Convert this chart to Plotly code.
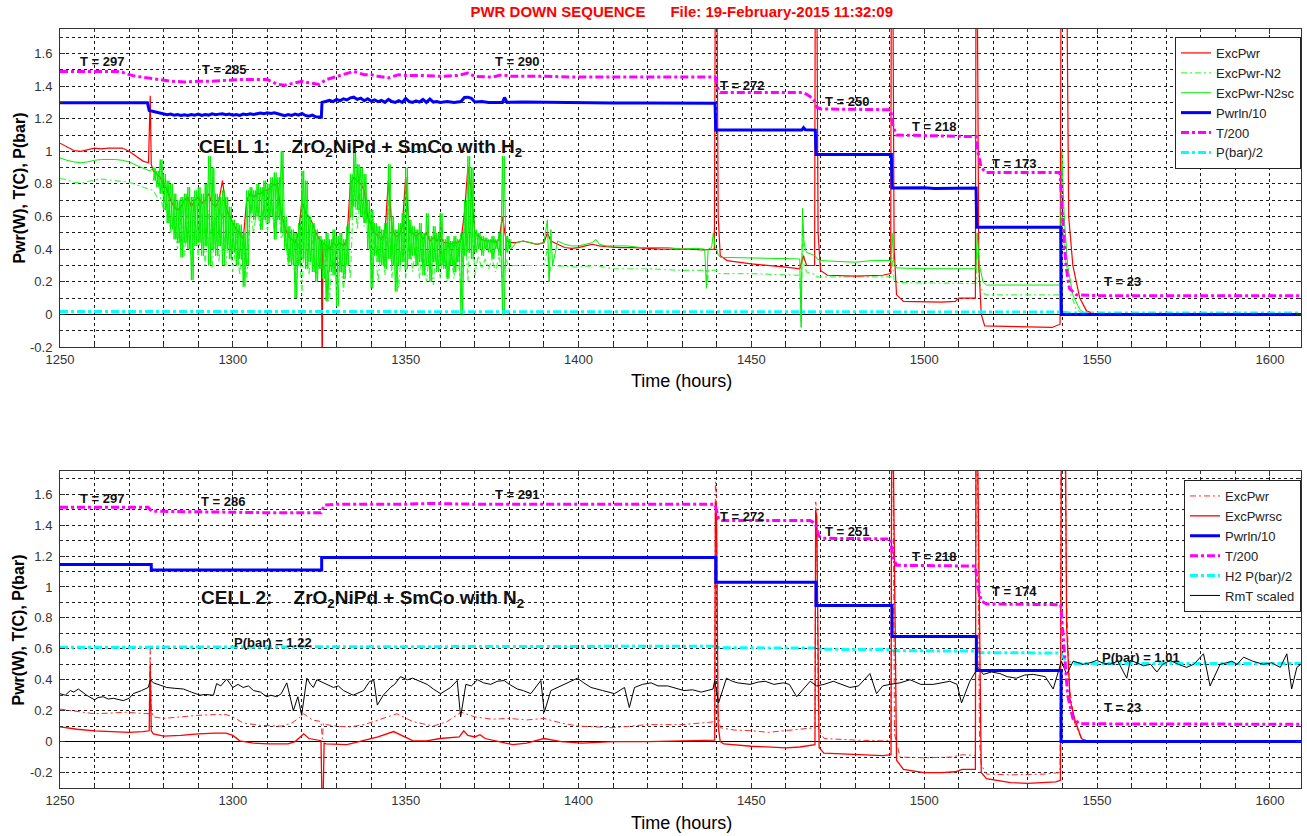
import plotly.graph_objects as go

FONT = "Liberation Sans, Arial, Helvetica, sans-serif"

# ====================== CELL 1 : ZrO2NiPd + SmCo with H2 ======================
# ExcPwr (red) - smooth start, hourly noisy band, dip at 1326 and power-step tail
c1_exc_head = [(1250, 1.05), (1252, 1.03), (1254, 1.005), (1256, 1.0), (1258, 1.01),
               (1260, 1.02), (1262, 1.015), (1264, 1.02), (1266, 1.02), (1268, 1.02),
               (1270, 1.0), (1272, 0.97), (1274, 0.94), (1275.6, 0.93), (1276.1, 1.34),
               (1276.4, 0.92), (1276.8, 0.89)]
c1_band_hours = list(range(1277, 1381))
c1_exc_band = [0.88, 0.86, 0.84, 0.80, 0.76, 0.70, 0.66, 0.64, 0.66, 0.70,
               0.72, 0.66, 0.70, 0.72, 0.68, 0.70, 0.74, 0.68, 0.66, 0.70,
               0.82, 0.66, 0.60, 0.56, 0.52, 0.50, 0.46, 0.70, 0.74, 0.72,
               0.74, 0.74, 0.76, 0.76, 0.78, 0.80, 0.78, 0.62, 0.54, 0.48,
               0.46, 0.44, 0.50, 0.70, 0.62, 0.60, 0.56, 0.50, 0.46, 0.44,
               0.42, 0.40, 0.44, 0.42, 0.44, 0.42, 0.46, 0.80, 0.84, 0.82,
               0.80, 0.76, 0.60, 0.54, 0.50, 0.48, 0.46, 0.50, 0.82, 0.54,
               0.48, 0.48, 0.54, 0.84, 0.52, 0.50, 0.48, 0.50, 0.46, 0.50,
               0.45, 0.47, 0.45, 0.48, 0.44, 0.44, 0.43, 0.44, 0.44, 0.46,
               0.62, 0.90, 0.76, 0.50, 0.48, 0.46, 0.45, 0.45, 0.45, 0.44,
               0.46, 0.60, 0.46, 0.44]
c1_exc_dip = [(1325.6, 0.45), (1325.8, -0.25), (1325.9, -0.25)]
c1_exc_tail = [(1382, 0.44), (1384, 0.45), (1386, 0.44), (1388, 0.43), (1390, 0.44),
               (1391, 0.50), (1392, 0.45), (1394, 0.43), (1396, 0.41), (1398, 0.405),
               (1400, 0.41), (1402, 0.42), (1404, 0.43), (1406, 0.42), (1408, 0.415),
               (1412, 0.41), (1416, 0.41), (1420, 0.405), (1424, 0.40), (1428, 0.40),
               (1432, 0.40), (1436, 0.395), (1439.3, 0.40), (1439.6, 2.2), (1440.0, 2.2),
               (1440.4, 0.6), (1441, 0.36), (1443, 0.33), (1450, 0.31), (1460, 0.29),
               (1464, 0.28), (1465, 0.36), (1466, 0.30), (1468.3, 0.30), (1468.5, 2.2),
               (1468.9, 2.2), (1469.3, 0.5), (1470, 0.27), (1472, 0.24), (1480, 0.235),
               (1488, 0.24), (1490.3, 0.25), (1490.5, 2.2), (1490.9, 2.2), (1491.3, 0.4),
               (1492, 0.12), (1494, 0.08), (1505, 0.075), (1509, 0.08), (1510, 0.10),
               (1514.8, 0.10), (1515.0, 2.2), (1515.3, 2.2), (1515.8, 0.3), (1516.5, 0.0),
               (1517.5, -0.07), (1525, -0.075), (1537, -0.08), (1539.3, -0.06), (1539.6, 2.2),
               (1541.2, 2.2), (1541.8, 0.6), (1543, 0.3), (1545, 0.1), (1547, 0.02),
               (1550, 0.0), (1609, 0.0)]

# ExcPwr-N2sc (solid green): start, hourly high/low band, tail
c1_sc_head = [(1250, 0.96), (1252, 0.945), (1254, 0.935), (1256, 0.93), (1258, 0.935),
              (1260, 0.945), (1262, 0.95), (1264, 0.95), (1266, 0.95), (1268, 0.945),
              (1270, 0.935), (1272, 0.915), (1274, 0.895), (1276, 0.88)]
c1_sc_hi = [0.90, 0.88, 0.95, 0.86, 0.82, 0.80, 0.74, 0.70, 0.72, 0.74,
            0.78, 0.72, 0.76, 0.78, 0.74, 0.80, 0.97, 0.90, 0.74, 0.72,
            0.76, 0.72, 0.66, 0.58, 0.56, 0.55, 0.50, 0.76, 0.78, 0.76,
            0.80, 0.78, 0.82, 0.80, 0.84, 0.87, 0.84, 1.00, 0.60, 0.54,
            0.52, 0.50, 0.56, 0.88, 0.82, 0.60, 0.56, 0.52, 0.48, 0.46,
            0.50, 0.46, 0.52, 0.48, 0.50, 0.46, 0.54, 0.86, 1.00, 0.92,
            0.90, 0.86, 0.70, 0.64, 0.56, 0.54, 0.52, 0.56, 0.92, 0.60,
            0.52, 0.56, 0.62, 0.90, 0.58, 0.54, 0.52, 0.56, 0.50, 0.62,
            0.48, 0.54, 0.50, 0.62, 0.46, 0.48, 0.45, 0.48, 0.46, 0.50,
            0.70, 0.97, 0.90, 0.52, 0.50, 0.48, 0.47, 0.46, 0.48, 0.46,
            0.50, 0.97, 0.48, 0.46]
c1_sc_lo = [0.82, 0.78, 0.74, 0.64, 0.56, 0.52, 0.46, 0.44, 0.35, 0.44,
            0.40, 0.21, 0.42, 0.44, 0.36, 0.42, 0.30, 0.40, 0.36, 0.42,
            0.30, 0.40, 0.34, 0.38, 0.30, 0.34, 0.17, 0.30, 0.62, 0.58,
            0.60, 0.52, 0.58, 0.56, 0.60, 0.46, 0.58, 0.50, 0.40, 0.32,
            0.30, 0.10, 0.30, 0.34, 0.28, 0.32, 0.26, 0.20, 0.28, 0.22,
            0.08, 0.26, 0.24, 0.05, 0.26, 0.22, 0.30, 0.60, 0.66, 0.64,
            0.60, 0.56, 0.40, 0.16, 0.36, 0.32, 0.30, 0.28, 0.34, 0.30,
            0.14, 0.30, 0.32, 0.28, 0.34, 0.36, 0.30, 0.32, 0.24, 0.30,
            0.20, 0.32, 0.26, 0.30, 0.28, 0.22, 0.30, 0.26, 0.32, 0.00,
            0.36, 0.38, 0.34, 0.38, 0.40, 0.36, 0.40, 0.38, 0.34, 0.40,
            0.36, 0.00, 0.38, 0.40]
c1_sc_tail = [(1382, 0.44), (1384, 0.45), (1386, 0.44), (1388, 0.43), (1390, 0.44),
              (1391, 0.58), (1391.5, 0.20), (1392, 0.52), (1392.5, 0.30), (1394, 0.45),
              (1396, 0.43), (1398, 0.42), (1400, 0.42), (1402, 0.43), (1404, 0.44),
              (1405, 0.46), (1406, 0.43), (1408, 0.42), (1410, 0.42), (1414, 0.42),
              (1418, 0.41), (1422, 0.41), (1426, 0.41), (1430, 0.40), (1434, 0.405),
              (1436.5, 0.40), (1437, 0.16), (1437.5, 0.40), (1438.5, 0.41), (1439, 0.50),
              (1439.5, 0.41), (1440, 0.40), (1440.3, 0.37), (1441, 0.35), (1450, 0.345),
              (1460, 0.34), (1464, 0.34), (1464.4, -0.08), (1464.8, 0.65), (1465.2, 0.45),
              (1465.6, 0.40), (1466, 0.38), (1467, 0.37), (1468.5, 0.36), (1469, 0.34),
              (1470, 0.33), (1480, 0.32), (1485, 0.33), (1490.4, 0.33), (1490.7, 0.50),
              (1491.2, 0.32), (1492, 0.285), (1500, 0.28), (1515, 0.28), (1515.3, 0.50),
              (1516, 0.30), (1517, 0.20), (1518, 0.18), (1530, 0.18), (1539.3, 0.18),
              (1539.8, 1.00), (1540.5, 0.60), (1541.5, 0.30), (1543, 0.12), (1545, 0.03),
              (1547, 0.0), (1609, 0.0)]

# ExcPwr-N2 (dash-dot light green): start, 2-hourly high/low band, tail
c1_n2_head = [(1250, 0.835), (1252, 0.825), (1254, 0.81), (1256, 0.805), (1258, 0.815),
              (1260, 0.825), (1262, 0.83), (1264, 0.825), (1266, 0.82), (1268, 0.815),
              (1270, 0.81), (1272, 0.795), (1274, 0.78), (1276, 0.765)]
c1_n2_hours = list(range(1277, 1381, 2))
c1_n2_hi = [0.76, 0.72, 0.68, 0.62, 0.60, 0.62, 0.60, 0.62, 0.64, 0.60,
            0.62, 0.54, 0.48, 0.44, 0.64, 0.66, 0.68, 0.70, 0.72, 0.52,
            0.44, 0.46, 0.66, 0.46, 0.40, 0.40, 0.42, 0.40, 0.44, 0.80,
            0.78, 0.62, 0.48, 0.44, 0.70, 0.44, 0.50, 0.48, 0.44, 0.42,
            0.40, 0.42, 0.40, 0.38, 0.40, 0.60, 0.70, 0.36, 0.34, 0.34,
            0.36, 0.34]
c1_n2_lo = [0.72, 0.64, 0.50, 0.40, 0.36, 0.30, 0.34, 0.30, 0.28, 0.32,
            0.30, 0.26, 0.24, 0.20, 0.50, 0.52, 0.50, 0.52, 0.46, 0.30,
            0.24, 0.12, 0.24, 0.22, 0.18, 0.10, 0.20, 0.14, 0.22, 0.52,
            0.54, 0.34, 0.20, 0.24, 0.22, 0.16, 0.22, 0.26, 0.22, 0.20,
            0.18, 0.22, 0.20, 0.22, 0.14, 0.20, 0.24, 0.28, 0.28, 0.26,
            0.22, 0.28]
c1_n2_tail = [(1381, 0.30), (1390, 0.30), (1391, 0.40), (1391.5, 0.22), (1392, 0.30),
              (1400, 0.29), (1405, 0.30), (1410, 0.28), (1420, 0.28), (1430, 0.27),
              (1437, 0.27), (1437.3, 0.18), (1437.6, 0.27), (1440, 0.27), (1440.4, 0.25),
              (1450, 0.25), (1460, 0.245), (1464, 0.24), (1464.4, -0.05), (1464.8, 0.55),
              (1465.3, 0.30), (1466, 0.26), (1468.5, 0.245), (1469, 0.23), (1480, 0.23),
              (1490.4, 0.23), (1490.7, 0.35), (1491.3, 0.21), (1492, 0.195), (1515, 0.19),
              (1515.3, 0.40), (1516, 0.20), (1517, 0.13), (1518, 0.12), (1539.3, 0.12),
              (1539.9, 0.60), (1540.8, 0.35), (1542, 0.15), (1544, 0.03), (1546, 0.0),
              (1609, 0.0)]

# Pwrln/10 (blue)
c1_pwr = [(1250, 1.298), (1275.3, 1.298), (1275.8, 1.25), (1277, 1.245), (1278, 1.24),
          (1279, 1.235), (1280, 1.23), (1281, 1.225), (1282, 1.228), (1283, 1.222),
          (1284, 1.226), (1285, 1.22), (1286, 1.224), (1287, 1.22), (1288, 1.226),
          (1289, 1.222), (1290, 1.228), (1291, 1.22), (1292, 1.225), (1293, 1.222),
          (1294, 1.23), (1295, 1.224), (1296, 1.228), (1297, 1.23), (1298, 1.224),
          (1299, 1.228), (1300, 1.222), (1301, 1.226), (1302, 1.22), (1303, 1.228),
          (1304, 1.224), (1305, 1.23), (1306, 1.226), (1307, 1.232), (1308, 1.235),
          (1309, 1.23), (1310, 1.236), (1311, 1.232), (1312, 1.236), (1313, 1.23),
          (1314, 1.226), (1315, 1.218), (1316, 1.225), (1317, 1.22), (1318, 1.228),
          (1319, 1.222), (1320, 1.232), (1321, 1.22), (1322, 1.215), (1323, 1.222),
          (1324, 1.212), (1325, 1.21), (1325.6, 1.21), (1325.8, 1.30), (1327, 1.305),
          (1328, 1.312), (1329, 1.305), (1330, 1.318), (1331, 1.31), (1332, 1.322),
          (1333, 1.315), (1334, 1.328), (1335, 1.332), (1336, 1.318), (1337, 1.326),
          (1338, 1.31), (1339, 1.322), (1340, 1.308), (1341, 1.315), (1342, 1.305),
          (1343, 1.312), (1344, 1.30), (1345, 1.318), (1346, 1.305), (1347, 1.30),
          (1348, 1.31), (1349, 1.30), (1350, 1.325), (1351, 1.305), (1352, 1.30),
          (1353, 1.31), (1354, 1.302), (1355, 1.318), (1356, 1.30), (1357, 1.32),
          (1358, 1.302), (1359, 1.305), (1360, 1.30), (1362, 1.305), (1364, 1.30),
          (1366, 1.305), (1367, 1.33), (1368, 1.332), (1369, 1.325), (1370, 1.302),
          (1372, 1.305), (1374, 1.30), (1376, 1.302), (1378, 1.30), (1378.6, 1.33),
          (1379.3, 1.30), (1384, 1.302), (1390, 1.30), (1394, 1.30), (1400, 1.298),
          (1410, 1.296), (1420, 1.296), (1430, 1.295), (1439.5, 1.295), (1439.7, 1.13),
          (1464.6, 1.13), (1465.1, 1.145), (1465.6, 1.132), (1468.5, 1.13), (1468.7, 0.98),
          (1490.5, 0.98), (1490.7, 0.775), (1500, 0.776), (1503, 0.772), (1515, 0.775),
          (1515.2, 0.535), (1539.5, 0.535), (1539.7, 0.0), (1609, 0.0)]

# T/200 (magenta)
c1_temp = [(1250, 1.49), (1266, 1.49), (1268, 1.485), (1270, 1.47), (1272, 1.46),
           (1275, 1.45), (1278, 1.44), (1282, 1.43), (1286, 1.425), (1290, 1.43),
           (1294, 1.43), (1298, 1.435), (1302, 1.44), (1306, 1.44), (1310, 1.44),
           (1313, 1.41), (1315, 1.405), (1318, 1.42), (1320, 1.43), (1322, 1.42),
           (1325, 1.41), (1327, 1.44), (1330, 1.46), (1333, 1.48), (1335, 1.49),
           (1338, 1.47), (1340, 1.47), (1342, 1.46), (1345, 1.45), (1348, 1.47),
           (1350, 1.465), (1355, 1.465), (1360, 1.46), (1365, 1.465), (1368, 1.48),
           (1370, 1.46), (1375, 1.455), (1378, 1.47), (1380, 1.46), (1390, 1.46),
           (1400, 1.455), (1420, 1.455), (1439.5, 1.455), (1440.5, 1.37), (1441, 1.36),
           (1460, 1.36), (1465, 1.36), (1466, 1.35), (1468, 1.32), (1469, 1.27),
           (1470, 1.26), (1490.3, 1.255), (1491, 1.15), (1492, 1.10), (1515, 1.09),
           (1515.5, 1.0), (1516.5, 0.90), (1518, 0.87), (1539.3, 0.87), (1540, 0.6),
           (1541, 0.3), (1542, 0.16), (1544, 0.12), (1550, 0.115), (1609, 0.115)]

# P(bar)/2 (cyan)
c1_press = [(1250, 0.018), (1280, 0.016), (1300, 0.015), (1310, 0.018), (1350, 0.017),
            (1400, 0.017), (1500, 0.016), (1539.5, 0.015), (1542, 0.008), (1609, 0.008)]

c1_labels = [("T = 297", 1255.2, 1.553), ("T = 285", 1290.5, 1.503),
             ("T = 290", 1375.3, 1.551), ("T = 272", 1440.3, 1.405),
             ("T = 250", 1470.7, 1.305), ("T = 218", 1495.9, 1.154),
             ("T = 173", 1519.0, 0.925), ("T = 23", 1551.4, 0.201)]

# ====================== CELL 2 : ZrO2NiPd + SmCo with N2 ======================
c2_exc = [(1250, 0.21), (1255, 0.195), (1260, 0.18), (1265, 0.185), (1269, 0.19),
          (1272, 0.185), (1275.8, 0.18), (1276.1, 0.60), (1276.4, 0.20), (1277, 0.16),
          (1280, 0.15), (1285, 0.16), (1290, 0.17), (1295, 0.175), (1298, 0.175),
          (1300, 0.16), (1303, 0.12), (1308, 0.105), (1314, 0.10), (1317, 0.12),
          (1319, 0.15), (1320.5, 0.18), (1323, 0.14), (1325.5, 0.13), (1325.9, 0.02),
          (1326.2, 0.12), (1327, 0.11), (1330, 0.10), (1334, 0.095), (1338, 0.11),
          (1342, 0.14), (1347.5, 0.18), (1352, 0.13), (1358, 0.10), (1362, 0.13),
          (1366, 0.19), (1370, 0.16), (1375, 0.145), (1380, 0.15), (1385, 0.14),
          (1390, 0.15), (1395, 0.12), (1400, 0.10), (1410, 0.09), (1420, 0.11),
          (1430, 0.11), (1438, 0.125), (1439.4, 0.13), (1439.6, 1.68), (1439.9, 1.6),
          (1440.3, 0.2), (1441, 0.09), (1445, 0.075), (1450, 0.07), (1455, 0.06),
          (1460, 0.07), (1464, 0.08), (1468.4, 0.09), (1468.6, 1.55), (1468.9, 1.5),
          (1469.4, 0.08), (1471, 0.02), (1480, 0.01), (1488, 0.005), (1490.4, 0.01),
          (1490.6, 2.2), (1490.9, 2.2), (1491.4, 0.05), (1493, -0.10), (1500, -0.105),
          (1508, -0.10), (1511, -0.085), (1514.8, -0.09), (1515.0, 2.2), (1515.3, 2.2),
          (1516, 0.0), (1516.5, -0.15), (1518, -0.21), (1525, -0.215), (1535, -0.21),
          (1539.3, -0.2), (1539.6, 2.2), (1540.6, 2.2), (1541.2, 0.9), (1542, 0.35),
          (1543.5, 0.12), (1545.5, 0.02), (1548, 0.0), (1609, 0.0)]

c2_excsc = [(1250, 0.095), (1255, 0.08), (1260, 0.07), (1265, 0.065), (1270, 0.06),
            (1274, 0.065), (1275.8, 0.07), (1276.1, 0.50), (1276.4, 0.07), (1277, 0.05),
            (1280, 0.035), (1285, 0.04), (1290, 0.05), (1295, 0.055), (1298, 0.055),
            (1300, 0.04), (1302, 0.005), (1306, -0.01), (1310, -0.015), (1316, -0.015),
            (1318, 0.0), (1319.5, 0.03), (1320.5, 0.05), (1322, 0.02), (1325.5, 0.006),
            (1325.8, -0.4), (1326.1, -0.4), (1326.4, -0.01), (1327, -0.015), (1333, -0.02),
            (1338, 0.01), (1342, 0.03), (1346.5, 0.065), (1350, 0.03), (1352, 0.006),
            (1356, 0.005), (1360, 0.02), (1365.5, 0.03), (1366.8, 0.07), (1368, 0.04),
            (1370, 0.03), (1371.5, 0.045), (1373, 0.02), (1377, 0.0), (1381, -0.02),
            (1385, -0.01), (1390, 0.02), (1395, 0.0), (1401, -0.01), (1410, 0.0),
            (1420, 0.0), (1430, 0.005), (1439.4, 0.01), (1439.6, 1.55), (1439.9, 1.5),
            (1440.4, 0.10), (1441, 0.0), (1442, -0.015), (1450, -0.03), (1460, -0.04),
            (1464, -0.035), (1468.4, -0.02), (1468.6, 1.5), (1468.9, 1.45), (1469.6, -0.04),
            (1471, -0.075), (1480, -0.085), (1488, -0.09), (1490.4, -0.085), (1490.6, 2.2),
            (1490.9, 2.2), (1492, -0.12), (1494, -0.18), (1500, -0.20), (1505, -0.20),
            (1509, -0.195), (1511, -0.18), (1514.8, -0.18), (1515.0, 2.2), (1515.3, 2.2),
            (1516.5, -0.2), (1518, -0.24), (1525, -0.265), (1530, -0.27), (1538, -0.26),
            (1539.4, -0.25), (1539.7, 2.2), (1540.8, 2.2), (1541.2, 0.74), (1542.2, 0.27),
            (1543.6, 0.14), (1545.5, 0.02), (1547, 0.0), (1609, 0.0)]

# Pwrln/10 as a stepped setpoint
c2_pwr_t = [1250, 1276.4, 1325.7, 1439.7, 1468.7, 1490.7, 1515.1, 1539.6, 1609]
c2_pwr_v = [1.145, 1.11, 1.19, 1.03, 0.88, 0.68, 0.46, 0.0, 0.0]

c2_temp = [(1250, 1.515), (1275.5, 1.515), (1276.5, 1.49), (1290, 1.485), (1300, 1.483),
           (1310, 1.48), (1320, 1.48), (1325.5, 1.48), (1326.5, 1.53), (1330, 1.535),
           (1350, 1.535), (1357, 1.54), (1370, 1.535), (1400, 1.535), (1420, 1.535),
           (1439.5, 1.535), (1440.5, 1.44), (1441.5, 1.43), (1460, 1.43), (1467, 1.43),
           (1468.5, 1.41), (1469.5, 1.33), (1470.5, 1.315), (1490.3, 1.31), (1490.8, 1.2),
           (1492, 1.14), (1514.8, 1.135), (1515.5, 1.0), (1516.5, 0.91), (1518, 0.89),
           (1539.5, 0.885), (1540.5, 0.6), (1541.5, 0.3), (1543, 0.15), (1545, 0.115),
           (1609, 0.112)]

c2_press = [(1250, 0.61), (1300, 0.612), (1350, 0.615), (1400, 0.615), (1439.5, 0.617),
            (1440.5, 0.607), (1468.5, 0.605), (1469, 0.597), (1490.5, 0.595), (1491, 0.588),
            (1515, 0.585), (1515.5, 0.575), (1539.5, 0.573), (1541, 0.52), (1543, 0.505),
            (1609, 0.505)]

c2_rmt = [(1250, 0.31), (1251.5, 0.30), (1253, 0.33), (1254, 0.32), (1255.3, 0.34),
          (1257.7, 0.30), (1260, 0.27), (1261, 0.285), (1262.5, 0.29), (1264, 0.275),
          (1265.4, 0.28), (1268.3, 0.265), (1270, 0.28), (1271.2, 0.31), (1273.6, 0.33),
          (1275.5, 0.35), (1276.2, 0.40), (1277, 0.38), (1279, 0.365), (1280.9, 0.35),
          (1283, 0.345), (1285.7, 0.34), (1288, 0.32), (1290.5, 0.30), (1292, 0.305),
          (1294.4, 0.30), (1295.3, 0.375), (1296.5, 0.36), (1298.2, 0.405), (1300, 0.35),
          (1301.5, 0.37), (1303, 0.35), (1304.5, 0.36), (1306, 0.33), (1308, 0.32),
          (1309.8, 0.29), (1311, 0.30), (1312.7, 0.29), (1314, 0.31), (1315.6, 0.38),
          (1317.5, 0.20), (1318.8, 0.29), (1319.9, 0.17), (1321.4, 0.41), (1322.5, 0.37),
          (1323.3, 0.35), (1324.3, 0.40), (1325.2, 0.39), (1327, 0.37), (1329.1, 0.35),
          (1330.5, 0.36), (1332, 0.33), (1334.8, 0.30), (1336, 0.31), (1337.8, 0.33),
          (1339.6, 0.39), (1340.8, 0.395), (1341.8, 0.236), (1343.5, 0.30), (1345.6, 0.35),
          (1346.8, 0.37), (1348.5, 0.42), (1350.5, 0.40), (1352, 0.41), (1353.4, 0.395),
          (1356.2, 0.37), (1358, 0.34), (1360.1, 0.31), (1363, 0.35), (1364.9, 0.395),
          (1365.9, 0.16), (1367.4, 0.37), (1369, 0.36), (1370.8, 0.40), (1372.5, 0.38),
          (1374.6, 0.37), (1376.5, 0.39), (1378.5, 0.395), (1380, 0.37), (1382.3, 0.34),
          (1384, 0.33), (1386.2, 0.31), (1389.1, 0.395), (1390.1, 0.19), (1392, 0.33),
          (1394, 0.35), (1395.9, 0.37), (1397.5, 0.39), (1399.7, 0.41), (1401.5, 0.38),
          (1403.6, 0.35), (1407, 0.33), (1410.4, 0.31), (1413.3, 0.35), (1414.7, 0.22),
          (1416.2, 0.35), (1418.5, 0.37), (1421, 0.38), (1423, 0.36), (1425.8, 0.36),
          (1428, 0.345), (1430.5, 0.33), (1433, 0.335), (1435.5, 0.32), (1438.9, 0.34),
          (1439.4, 0.395), (1440.5, 0.25), (1442.8, 0.41), (1444.5, 0.39), (1446, 0.38),
          (1449.6, 0.37), (1452, 0.385), (1454, 0.39), (1456.5, 0.37), (1459.3, 0.38),
          (1461, 0.37), (1463.1, 0.29), (1467, 0.39), (1468.9, 0.36), (1471, 0.37),
          (1473.7, 0.39), (1476, 0.37), (1478.5, 0.35), (1481, 0.36), (1484.3, 0.44),
          (1486.2, 0.31), (1488, 0.36), (1490.1, 0.37), (1493, 0.38), (1495.9, 0.40),
          (1499, 0.37), (1502.6, 0.37), (1505, 0.38), (1507.4, 0.39), (1509.5, 0.37),
          (1510.8, 0.25), (1513.2, 0.39), (1515.6, 0.48), (1517.1, 0.435), (1519.5, 0.45),
          (1521.9, 0.44), (1524, 0.42), (1526.7, 0.41), (1529, 0.43), (1531.5, 0.435),
          (1535, 0.42), (1537.3, 0.34), (1539.7, 0.52), (1541.2, 0.435), (1543.1, 0.52),
          (1546, 0.50), (1548, 0.51), (1549.9, 0.525), (1551.5, 0.51), (1553.7, 0.50),
          (1556, 0.52), (1558.6, 0.41), (1559.6, 0.525), (1561.5, 0.51), (1563.4, 0.49),
          (1565.5, 0.50), (1567.3, 0.45), (1569, 0.50), (1571.1, 0.525), (1573.5, 0.50),
          (1575.9, 0.48), (1578, 0.50), (1580.8, 0.568), (1582.7, 0.36), (1585.6, 0.50),
          (1587.5, 0.51), (1589, 0.52), (1590.5, 0.50), (1592.4, 0.546), (1595, 0.52),
          (1598.1, 0.50), (1600.5, 0.51), (1603, 0.48), (1604.9, 0.568), (1606.3, 0.34),
          (1607.8, 0.48), (1609, 0.50)]

c2_labels = [("T = 297", 1255.2, 1.572), ("T = 286", 1290.2, 1.55),
             ("T = 291", 1375.3, 1.60), ("T = 272", 1440.3, 1.453),
             ("T = 251", 1470.7, 1.356), ("T = 218", 1495.9, 1.198),
             ("T = 174", 1519.0, 0.973), ("T = 23", 1551.3, 0.222),
             ("P(bar) = 1.22", 1299.8, 0.643), ("P(bar) = 1.01", 1550.8, 0.546)]

# Axis ticks
x_ticks = [1250, 1300, 1350, 1400, 1450, 1500, 1550, 1600]
y_ticks = [-0.2, 0, 0.2, 0.4, 0.6, 0.8, 1, 1.2, 1.4, 1.6]
y_ticktext = ["-0.2", "0", "0.2", "0.4", "0.6", "0.8", "1", "1.2", "1.4", "1.6"]


def unzip(pairs):
    return [p[0] for p in pairs], [p[1] for p in pairs]


def zigzag(hours, first, second, half):
    xs, ys = [], []
    for t, a, b in zip(hours, first, second):
        xs += [t, t + half]
        ys += [a, b]
    return xs, ys


def join(*parts):
    xs, ys = [], []
    for px, py in parts:
        xs += list(px)
        ys += list(py)
    return xs, ys


# assemble cell-1 series
red_band = sorted(list(zip(c1_band_hours, c1_exc_band)) + c1_exc_dip)
c1_exc_x, c1_exc_y = join(unzip(c1_exc_head), unzip(red_band), unzip(c1_exc_tail))
c1_sc_x, c1_sc_y = join(unzip(c1_sc_head), zigzag(c1_band_hours, c1_sc_hi, c1_sc_lo, 0.5),
                        unzip(c1_sc_tail))
# the same hourly samples traced in opposite phase, so the noisy band reads as dense
c1_sc2_x, c1_sc2_y = zigzag(c1_band_hours, c1_sc_lo, c1_sc_hi, 0.5)
c1_n2_x, c1_n2_y = join(unzip(c1_n2_head), zigzag(c1_n2_hours, c1_n2_hi, c1_n2_lo, 1.0),
                        unzip(c1_n2_tail))

DD_THICK = "8px,3px,3px,3px"
DD_THIN = "6px,3px,2px,3px"
GREEN = "#00f000"

fig = go.Figure()


def add(x, y, name, color, width, dash, xa, ya, legend, rank, show=True):
    fig.add_trace(go.Scatter(
        x=x, y=y, mode="lines", name=name, xaxis=xa, yaxis=ya,
        line=dict(color=color, width=width, dash=dash), showlegend=show,
        legend=legend, legendrank=rank, hoverinfo="skip"))


# cell 1 traces (draw order)
add(c1_n2_x, c1_n2_y, "ExcPwr-N2", "#40ff40", 1.2, DD_THIN, "x", "y", "legend", 2)
add(c1_exc_x, c1_exc_y, "ExcPwr", "#ff0000", 1.2, "solid", "x", "y", "legend", 1)
add(c1_sc2_x, c1_sc2_y, "ExcPwr-N2sc", GREEN, 1, "solid", "x", "y", "legend", 3, False)
add(c1_sc_x, c1_sc_y, "ExcPwr-N2sc", GREEN, 1, "solid", "x", "y", "legend", 3)
px_, py_ = unzip(c1_press)
add(px_, py_, "P(bar)/2", "#00ffff", 3, DD_THICK, "x", "y", "legend", 6)
px_, py_ = unzip(c1_pwr)
add(px_, py_, "Pwrln/10", "#0000ff", 3, "solid", "x", "y", "legend", 4)
px_, py_ = unzip(c1_temp)
add(px_, py_, "T/200", "#ff00ff", 3, DD_THICK, "x", "y", "legend", 5)

# cell 2 traces
px_, py_ = unzip(c2_press)
add(px_, py_, "H2 P(bar)/2", "#00ffff", 3, DD_THICK, "x2", "y2", "legend2", 5)
px_, py_ = unzip(c2_exc)
add(px_, py_, "ExcPwr", "#ff2a2a", 1, DD_THIN, "x2", "y2", "legend2", 1)
px_, py_ = unzip(c2_excsc)
add(px_, py_, "ExcPwrsc", "#ff0000", 1.3, "solid", "x2", "y2", "legend2", 2)
px_, py_ = unzip(c2_rmt)
add(px_, py_, "RmT scaled", "#000000", 1, "solid", "x2", "y2", "legend2", 6)
fig.add_trace(go.Scatter(x=c2_pwr_t, y=c2_pwr_v, mode="lines", name="Pwrln/10",
                         xaxis="x2", yaxis="y2", line=dict(color="#0000ff", width=3, shape="hv"),
                         legend="legend2", legendrank=3, hoverinfo="skip"))
px_, py_ = unzip(c2_temp)
add(px_, py_, "T/200", "#ff00ff", 3, DD_THICK, "x2", "y2", "legend2", 4)

GRID = dict(showgrid=True, gridcolor="#1a1a1a", gridwidth=1, griddash="3px,3px")
AX_COMMON = dict(showline=True, linecolor="#333333", linewidth=1, mirror="ticks",
                 ticks="inside", ticklen=5, tickcolor="#333333",
                 tickfont=dict(family=FONT, size=13, color="#333333"), **GRID)


def xaxis(anchor):
    return dict(range=[1250, 1609], tickvals=x_ticks, ticktext=[str(v) for v in x_ticks],
                anchor=anchor, zeroline=False,
                minor=dict(dtick=10, tick0=1250, ticks="inside", ticklen=3,
                           tickcolor="#333333", **GRID), **AX_COMMON)


def yaxis(rng, dom, anchor):
    return dict(range=rng, domain=dom, anchor=anchor, tickvals=y_ticks, ticktext=y_ticktext,
                zeroline=True, zerolinecolor="#000000", zerolinewidth=1,
                ticklabelstandoff=4,
                minor=dict(dtick=0.1, tick0=0, ticks="inside", ticklen=3,
                           tickcolor="#333333", **GRID), **AX_COMMON)


ann = []
bold = dict(family=FONT, size=13, color="#111111", weight="bold")
for txt, t, v in c1_labels:
    ann.append(dict(text=txt, x=t, y=v, xref="x", yref="y", xanchor="left",
                    yanchor="middle", showarrow=False, font=bold))
for txt, t, v in c2_labels:
    ann.append(dict(text=txt, x=t, y=v, xref="x2", yref="y2", xanchor="left",
                    yanchor="middle", showarrow=False, font=bold))

cell_font = dict(family=FONT, size=19, color="#111111", weight="bold")
ann.append(dict(text="CELL 1:\u00a0\u00a0\u00a0\u00a0ZrO<sub>2</sub>NiPd + SmCo with H<sub>2</sub>",
                x=1289.6, y=1.023, xref="x", yref="y", xanchor="left", yanchor="middle",
                showarrow=False, font=cell_font))
ann.append(dict(text="CELL 2:\u00a0\u00a0\u00a0\u00a0ZrO<sub>2</sub>NiPd + SmCo with N<sub>2</sub>",
                x=1290.2, y=0.924, xref="x2", yref="y2", xanchor="left", yanchor="middle",
                showarrow=False, font=cell_font))

xt_font = dict(family=FONT, size=18, color="#000000")
yt_font = dict(family=FONT, size=16, color="#000000", weight="bold")
for yy in (0.5362, -0.0461):
    ann.append(dict(text="Time (hours)", x=0.501, y=yy, xref="paper", yref="paper",
                    xanchor="center", yanchor="middle", showarrow=False, font=xt_font))
for yy in (0.7905, 0.2082):
    ann.append(dict(text="Pwr(W), T(C), P(bar)", x=-0.0334, y=yy, xref="paper",
                    yref="paper", xanchor="center", yanchor="middle", textangle=-90,
                    showarrow=False, font=yt_font))

legend_style = dict(x=1.0, xanchor="right", yanchor="top", bgcolor="#ffffff",
                    bordercolor="#222222", borderwidth=1, tracegroupgap=0,
                    font=dict(family=FONT, size=13, color="#222222"))

fig.update_layout(
    width=1307, height=836,
    margin=dict(l=60, r=6, t=29, b=48),
    paper_bgcolor="#ffffff", plot_bgcolor="#ffffff",
    font=dict(family=FONT),
    title=dict(text="PWR DOWN SEQUENCE" + "\u00a0" * 6 + "File: 19-February-2015 11:32:09",
               x=0.501, xref="paper", xanchor="center", y=1 - 12 / 836, yref="container",
               yanchor="middle", font=dict(family=FONT, size=15, color="#ff0000", weight="bold")),
    xaxis=xaxis("y"),
    yaxis=yaxis([-0.2, 1.75], [0.581, 1.0], "x"),
    xaxis2=xaxis("y2"),
    yaxis2=yaxis([-0.3, 1.75], [0.0, 0.4177], "x2"),
    legend=dict(y=0.9895, **legend_style),
    legend2=dict(y=0.4058, **legend_style),
    annotations=ann,
    showlegend=True,
)

fig.write_html("out.html")
